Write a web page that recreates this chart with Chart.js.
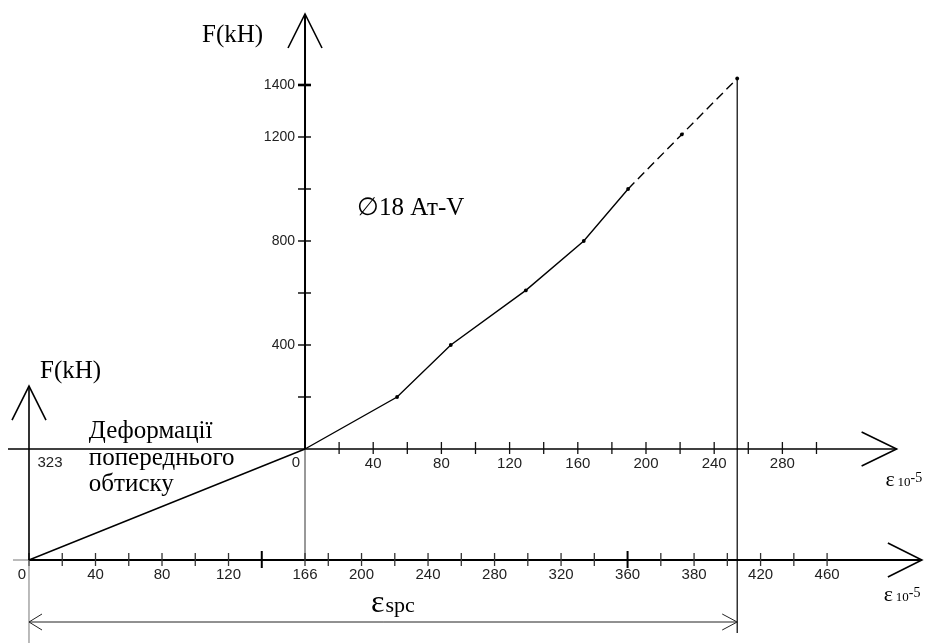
<!DOCTYPE html>
<html>
<head>
<meta charset="utf-8">
<script src="https://cdn.jsdelivr.net/npm/chart.js@4.4.1/dist/chart.umd.min.js"></script>
<style>
  html, body { margin: 0; padding: 0; background: #fff; overflow: hidden; }
  canvas { display: block; }
</style>
</head>
<body>
<canvas id="chart" width="936" height="643"></canvas>
<script>
// Working branch: strain ε·10^-5 against force F, kN (∅18 Ат-V)
const strainMain = [0, 54, 85.5, 129.5, 163.5, 189.5, 221, 253.5];
const forceMain  = [0, 200, 400, 610, 800, 1000, 1210, 1425];
const dashedFrom = 5;          // from this point on the branch is extrapolated

// Pre-compression branch, drawn on the lower pair of axes
const strainPre = [0, 166];
const forcePre  = [0, 323];

// Upper axes: ticks and labels
const upperXTicks  = [20, 40, 60, 80, 100, 120, 140, 160, 180, 200, 220, 240, 260, 280, 300];
const upperXLabels = [40, 80, 120, 160, 200, 240, 280];
const upperYTicks  = [200, 400, 600, 800, 1000, 1200, 1400];
const upperYLabels = [400, 800, 1200, 1400];

// Lower axes: ticks and labels
const lowerXTicks  = [0, 20, 40, 60, 80, 100, 120, 140, 166, 180, 200, 220, 240, 260, 280,
                      300, 320, 340, 360, 380, 400, 420, 440, 460, 480];
const lowerXLabelValues = [0, 40, 80, 120, 166, 200, 240, 280, 320, 360, 400, 440, 480];
const lowerXLabelTexts  = ['0', '40', '80', '120', '166', '200', '240', '280', '320', '360', '380', '420', '460'];
const lowerYLabels = [323];

const SERIF = '"Liberation Serif", "Times New Roman", serif';
const SANS = '"Liberation Sans", Arial, sans-serif';

function seg(ctx, x1, y1, x2, y2, w, color) {
  ctx.save();
  ctx.beginPath();
  ctx.lineWidth = w;
  ctx.strokeStyle = color;
  ctx.moveTo(x1, y1);
  ctx.lineTo(x2, y2);
  ctx.stroke();
  ctx.restore();
}

// open "V" arrow head; (dx, dy) is the unit direction the arrow points to
function arrowHead(ctx, tx, ty, dx, dy, len, half, w, color) {
  const bx = tx - dx * len, by = ty - dy * len;
  const nx = -dy, ny = dx;
  ctx.save();
  ctx.beginPath();
  ctx.lineWidth = w;
  ctx.strokeStyle = color;
  ctx.moveTo(bx + nx * half, by + ny * half);
  ctx.lineTo(tx, ty);
  ctx.lineTo(bx - nx * half, by - ny * half);
  ctx.stroke();
  ctx.restore();
}

function text(ctx, str, x, y, font, align, baseline, color) {
  ctx.save();
  ctx.font = font;
  ctx.textAlign = align || 'left';
  ctx.textBaseline = baseline || 'alphabetic';
  ctx.fillStyle = color || '#000';
  ctx.fillText(str, x, y);
  const w = ctx.measureText(str).width;
  ctx.restore();
  return w;
}

// "ε 10-5" axis caption
function strainCaption(ctx, x, y) {
  text(ctx, 'ε', x, y, '22px ' + SERIF);
  text(ctx, '10', x + 12, y, '13px ' + SERIF);
  text(ctx, '-5', x + 25, y - 4, '14px ' + SERIF);
}

const axesPlugin = {
  id: 'engineeringAxes',
  beforeDatasetsDraw(chart) {
    const ctx = chart.ctx;
    const S = chart.scales;
    const px = v => S.x.getPixelForValue(v), py = v => S.y.getPixelForValue(v);
    const lx = v => S.x2.getPixelForValue(v), ly = v => S.y2.getPixelForValue(v);
    const X0 = px(0), Y0 = py(0), LX0 = lx(0), LY0 = ly(0);
    const H = chart.height;

    // upper strain axis
    const uxTip = px(347);
    seg(ctx, LX0 - 21, Y0, uxTip, Y0, 1.5, '#000');
    arrowHead(ctx, uxTip, Y0, 1, 0, 35, 17, 1.6, '#000');
    upperXTicks.forEach(v => seg(ctx, px(v), Y0 - 7, px(v), Y0 + 5, 1.3, '#111'));

    // upper force axis (with its projection down to the lower strain axis)
    const uyTip = py(1673);
    seg(ctx, X0, LY0, X0, Y0, 1, '#333');
    seg(ctx, X0, Y0, X0, uyTip, 2, '#000');
    arrowHead(ctx, X0, uyTip, 0, -1, 34, 17, 1.6, '#000');
    upperYTicks.forEach(v => seg(ctx, X0 - 7, py(v), X0 + 6, py(v), v === 1400 ? 2.6 : 1.4, '#000'));

    // lower strain axis
    const lxTip = lx(537);
    seg(ctx, LX0 - 16, LY0, LX0, LY0, 1, '#777');
    seg(ctx, LX0, LY0, lxTip, LY0, 2.2, '#000');
    arrowHead(ctx, lxTip, LY0, 1, 0, 34, 17, 1.6, '#000');
    lowerXTicks.forEach(v => {
      const bold = v === 140 || v === 360;
      seg(ctx, lx(v), LY0 - (bold ? 9 : 7), lx(v), LY0 + (bold ? 8 : 6), bold ? 2 : 1.3, bold ? '#000' : '#333');
    });

    // lower force axis
    const lyTip = ly(506);
    seg(ctx, LX0, H, LX0, LY0, 1, '#777');
    seg(ctx, LX0, LY0, LX0, lyTip, 1.6, '#000');
    arrowHead(ctx, LX0, lyTip, 0, -1, 34, 17, 1.6, '#000');

    // projection of the end point and the ε_spc dimension line
    const last = strainMain.length - 1;
    const ex = px(strainMain[last]), ey = py(forceMain[last]);
    seg(ctx, ex, ey, ex, LY0 + 73, 1.2, '#000');
    const dimY = LY0 + 62;
    seg(ctx, LX0, dimY, ex, dimY, 1, '#222');
    arrowHead(ctx, LX0, dimY, -1, 0, 13, 8, 1, '#222');
    arrowHead(ctx, ex, dimY, 1, 0, 15, 8, 1, '#222');
  },
  afterDatasetsDraw(chart) {
    const ctx = chart.ctx;
    const S = chart.scales;
    const px = v => S.x.getPixelForValue(v), py = v => S.y.getPixelForValue(v);
    const lx = v => S.x2.getPixelForValue(v), ly = v => S.y2.getPixelForValue(v);
    const X0 = px(0), Y0 = py(0), LX0 = lx(0), LY0 = ly(0);
    const tickFontX = '15px ' + SANS, tickFontY = '14px ' + SANS;
    const tickColor = '#222';

    // tick labels, upper axes
    upperXLabels.forEach(v => text(ctx, String(v), px(v), Y0 + 15, tickFontX, 'center', 'middle', tickColor));
    text(ctx, '0', X0 - 9, Y0 + 14, tickFontX, 'center', 'middle', tickColor);
    upperYLabels.forEach(v => text(ctx, String(v), X0 - 10, py(v), tickFontY, 'right', 'middle', tickColor));

    // tick labels, lower axes
    lowerXLabelValues.forEach((v, i) => {
      const x = v === 0 ? LX0 - 7 : lx(v);
      text(ctx, lowerXLabelTexts[i], x, LY0 + 15, tickFontX, 'center', 'middle', tickColor);
    });
    lowerYLabels.forEach(v => text(ctx, String(v), LX0 + 21, ly(v) + 14, tickFontX, 'center', 'middle', tickColor));

    // axis captions
    text(ctx, 'F(kH)', X0 - 103, py(1673) + 28, '25px ' + SERIF);
    text(ctx, 'F(kH)', LX0 + 11, ly(506) - 8, '25px ' + SERIF);
    strainCaption(ctx, px(347) - 11, Y0 + 37);
    strainCaption(ctx, lx(537) - 38, LY0 + 41);

    // branch labels
    text(ctx, '∅18 Ат-V', px(30.5), py(900), '25px ' + SERIF);
    const dx = lx(36);
    text(ctx, 'Деформації', dx, Y0 - 11, '25px ' + SERIF);
    text(ctx, 'попереднього', dx, Y0 + 16, '25px ' + SERIF);
    text(ctx, 'обтиску', dx, Y0 + 42, '25px ' + SERIF);

    // ε_spc dimension caption
    const last = strainMain.length - 1;
    const mid = (LX0 + px(strainMain[last])) / 2;
    const ew = text(ctx, 'ε', mid - 12, LY0 + 52, '32px ' + SERIF);
    text(ctx, 'spc', mid - 12 + ew + 1, LY0 + 52, '22px ' + SERIF);
  }
};

new Chart(document.getElementById('chart'), {
  type: 'line',
  data: {
    datasets: [
      {
        label: 'pre-compression',
        data: strainPre.map((x, i) => ({ x, y: forcePre[i] })),
        xAxisID: 'x2', yAxisID: 'y2',
        borderColor: '#000', borderWidth: 1.4,
        pointRadius: 0, tension: 0
      },
      {
        label: '∅18 Ат-V',
        data: strainMain.map((x, i) => ({ x, y: forceMain[i] })),
        xAxisID: 'x', yAxisID: 'y',
        borderColor: '#000', borderWidth: 1.4, tension: 0,
        pointRadius: c => (c.dataIndex === 0 ? 0 : 1.9),
        pointBackgroundColor: '#000', pointBorderWidth: 0,
        segment: { borderDash: c => (c.p0DataIndex >= dashedFrom ? [9, 5] : undefined) }
      }
    ]
  },
  options: {
    responsive: false,
    animation: false,
    devicePixelRatio: 1,
    events: [],
    layout: { padding: 0, autoPadding: false },
    plugins: { legend: { display: false }, tooltip: { enabled: false } },
    scales: {
      x:  { type: 'linear', display: false, min: -178.9, max: 370.1 },
      y:  { type: 'linear', display: false, min: -746.2, max: 1726.9 },
      x2: { type: 'linear', display: false, min: -17.44, max: 545.5 },
      y2: { type: 'linear', display: false, min: -241.5, max: 1629.5 }
    }
  },
  plugins: [axesPlugin]
});
</script>
</body>
</html>
